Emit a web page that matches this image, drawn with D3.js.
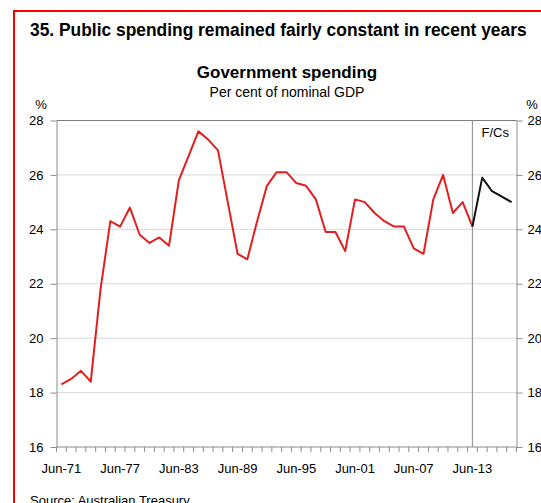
<!DOCTYPE html>
<html>
<head>
<meta charset="utf-8">
<script src="https://cdn.jsdelivr.net/npm/d3@7"></script>
<style>
  html, body { margin: 0; padding: 0; background: #fff; }
  svg { display: block; font-family: "Liberation Sans", Arial, sans-serif; }
</style>
</head>
<body>
<svg id="chart" width="541" height="503"></svg>
<script>
// Financial years (June), one category per year
const categories = [
  "Jun-71","Jun-72","Jun-73","Jun-74","Jun-75","Jun-76","Jun-77","Jun-78","Jun-79","Jun-80",
  "Jun-81","Jun-82","Jun-83","Jun-84","Jun-85","Jun-86","Jun-87","Jun-88","Jun-89","Jun-90",
  "Jun-91","Jun-92","Jun-93","Jun-94","Jun-95","Jun-96","Jun-97","Jun-98","Jun-99","Jun-00",
  "Jun-01","Jun-02","Jun-03","Jun-04","Jun-05","Jun-06","Jun-07","Jun-08","Jun-09","Jun-10",
  "Jun-11","Jun-12","Jun-13","Jun-14","Jun-15","Jun-16","Jun-17"
];

// Government spending, per cent of nominal GDP (Jun-71 to Jun-13)
const actualValues = [
  18.3, 18.5, 18.8, 18.4, 21.8, 24.3, 24.1, 24.8, 23.8, 23.5,
  23.7, 23.4, 25.8, 26.7, 27.6, 27.3, 26.9, 25.0, 23.1, 22.9,
  24.3, 25.6, 26.1, 26.1, 25.7, 25.6, 25.1, 23.9, 23.9, 23.2,
  25.1, 25.0, 24.6, 24.3, 24.1, 24.1, 23.3, 23.1, 25.1, 26.0,
  24.6, 25.0, 24.1
];

// Forecasts (Jun-13 to Jun-17)
const forecastCategories = ["Jun-13","Jun-14","Jun-15","Jun-16","Jun-17"];
const forecastValues = [24.1, 25.9, 25.4, 25.2, 25.0];

const xTickLabels = ["Jun-71","Jun-77","Jun-83","Jun-89","Jun-95","Jun-01","Jun-07","Jun-13"];
const yTicks = [16, 18, 20, 22, 24, 26, 28];
const forecastStart = "Jun-13";

const svg = d3.select("#chart");

const plot = { left: 56.5, right: 516.5, top: 120.5, bottom: 447 };

const x = d3.scaleBand().domain(categories).range([plot.left, plot.right]).padding(0);
const xc = c => x(c) + x.bandwidth() / 2;
const y = d3.scaleLinear().domain([16, 28]).range([plot.bottom, plot.top]);

// Outer red frame
svg.append("rect")
  .attr("x", 14).attr("y", 11)
  .attr("width", 600).attr("height", 600)
  .attr("fill", "none").attr("stroke", "#ff0000").attr("stroke-width", 2);

// Headline, set in a condensed bold face (horizontally squeezed to 497px)
const headline = svg.append("text")
  .attr("font-size", 19).attr("font-weight", "bold").attr("fill", "#000")
  .text("35. Public spending remained fairly constant in recent years");
const headW = headline.node().getComputedTextLength();
headline.attr("transform", `translate(30,36) scale(${497 / headW},1)`);

// Chart title and subtitle
svg.append("text")
  .attr("x", 287).attr("y", 77.5).attr("text-anchor", "middle")
  .attr("font-size", 17).attr("font-weight", "bold").attr("fill", "#000")
  .text("Government spending");
svg.append("text")
  .attr("x", 287).attr("y", 96.5).attr("text-anchor", "middle")
  .attr("font-size", 14).attr("fill", "#000")
  .text("Per cent of nominal GDP");

// Unit labels
svg.append("text").attr("x", 41).attr("y", 109).attr("text-anchor", "middle")
  .attr("font-size", 13).text("%");
svg.append("text").attr("x", 532).attr("y", 109).attr("text-anchor", "middle")
  .attr("font-size", 13).text("%");

// Horizontal gridlines
svg.append("g").selectAll("line")
  .data(yTicks.filter(v => v > 16 && v < 28))
  .join("line")
  .attr("x1", plot.left).attr("x2", plot.right)
  .attr("y1", d => y(d)).attr("y2", d => y(d))
  .attr("stroke", "#d9d9d9").attr("stroke-width", 1);

// Top border of the plot area
svg.append("line")
  .attr("x1", plot.left).attr("x2", plot.right)
  .attr("y1", y(28)).attr("y2", y(28))
  .attr("stroke", "#7f7f7f").attr("stroke-width", 1);

// Left and right value axes
const axisStyle = g => {
  g.select(".domain").attr("stroke", "#8c8c8c");
  g.selectAll(".tick line").attr("stroke", "#8c8c8c");
  g.selectAll(".tick text").attr("font-size", 13).attr("fill", "#000")
    .attr("font-family", "Liberation Sans, Arial, sans-serif");
};

svg.append("g")
  .attr("transform", `translate(${plot.left},0)`)
  .call(d3.axisLeft(y).tickValues(yTicks).tickSize(6).tickSizeOuter(0).tickPadding(7))
  .call(axisStyle);

svg.append("g")
  .attr("transform", `translate(${plot.right},0)`)
  .call(d3.axisRight(y).tickValues(yTicks).tickSize(6).tickSizeOuter(0).tickPadding(5))
  .call(axisStyle);

// Category axis: tick marks on band boundaries, labels every six years
const xAxis = svg.append("g").attr("transform", `translate(0,${plot.bottom})`);
xAxis.append("line")
  .attr("x1", plot.left).attr("x2", plot.right)
  .attr("stroke", "#8c8c8c");
xAxis.selectAll("line.tk")
  .data(categories.concat(["end"]))
  .join("line").attr("class", "tk")
  .attr("x1", (d, i) => i < categories.length ? x(d) : plot.right)
  .attr("x2", (d, i) => i < categories.length ? x(d) : plot.right)
  .attr("y1", 0).attr("y2", 5)
  .attr("stroke", "#8c8c8c");
xAxis.selectAll("text")
  .data(xTickLabels)
  .join("text")
  .attr("x", d => xc(d)).attr("y", 26)
  .attr("text-anchor", "middle").attr("font-size", 13).attr("fill", "#000")
  .text(d => d);

// Divider marking the start of the forecasts
svg.append("line")
  .attr("x1", xc(forecastStart)).attr("x2", xc(forecastStart))
  .attr("y1", plot.top).attr("y2", plot.bottom)
  .attr("stroke", "#9a9a9a").attr("stroke-width", 1.2);
svg.append("text")
  .attr("x", xc(forecastStart) + 9).attr("y", 137)
  .attr("font-size", 13).attr("fill", "#000")
  .text("F/Cs");

const line = d3.line().x(d => xc(d.c)).y(d => y(d.v));

// Actual outcomes
svg.append("path")
  .datum(actualValues.map((v, i) => ({ c: categories[i], v })))
  .attr("d", line)
  .attr("fill", "none").attr("stroke", "#e41e1e").attr("stroke-width", 2)
  .attr("stroke-linejoin", "round");

// Forecasts
svg.append("path")
  .datum(forecastValues.map((v, i) => ({ c: forecastCategories[i], v })))
  .attr("d", line)
  .attr("fill", "none").attr("stroke", "#111").attr("stroke-width", 2)
  .attr("stroke-linejoin", "round");

// Source note (runs past the bottom edge)
svg.append("text")
  .attr("x", 30).attr("y", 505)
  .attr("font-size", 13).attr("fill", "#000")
  .text("Source: Australian Treasury");
</script>
</body>
</html>
